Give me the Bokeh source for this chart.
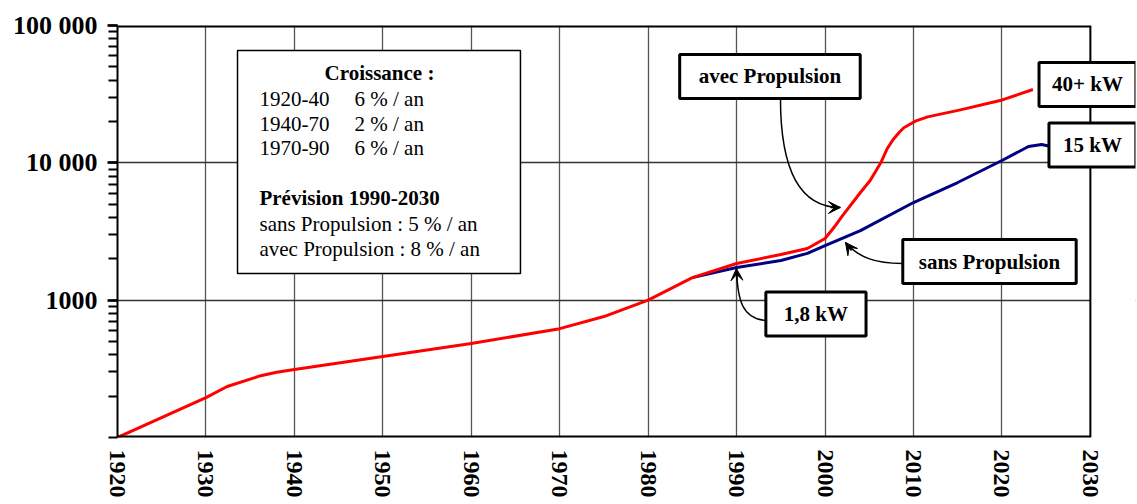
from bokeh.plotting import figure
from bokeh.models import Range1d, FixedTicker, Label, BoxAnnotation, Arrow, VeeHead, Span
from bokeh.embed import file_html
from bokeh.resources import INLINE

# ---- data ----
red_years = [1920, 1930, 1932.4, 1936.2, 1938, 1940, 1950, 1960, 1970, 1975, 1980, 1985,
             1990, 1995, 1998, 2000, 2001, 2002, 2004, 2005.1, 2006.3, 2007.0, 2007.7,
             2008.4, 2008.9, 2010.2, 2011.6, 2015.3, 2019.8, 2023.5]
red_vals = [100, 195, 235, 282, 299, 313, 389, 483, 620, 760, 1000, 1460,
            1850, 2150, 2380, 2810, 3380, 4140, 6080, 7430, 10000, 12600, 14800,
            16700, 18000, 20100, 21600, 24300, 28400, 34200]

blue_years = [1985, 1990, 1995, 1998, 2000, 2004, 2010, 2015, 2020, 2023, 2024.5, 2025.5]
blue_vals = [1460, 1730, 1945, 2190, 2500, 3210, 5140, 7190, 10400, 13150, 13600, 13150]

x_ticks = [1920, 1930, 1940, 1950, 1960, 1970, 1980, 1990, 2000, 2010, 2020, 2030]
y_ticks = [1000, 10000, 100000]
y_tick_labels = ["1000", "10 000", "100 000"]

box_head = "Croissance :"
box_periods = ["1920-40", "1940-70", "1970-90"]
box_rates = ["6 % / an", "2 % / an", "6 % / an"]
box_period_y = [28920, 19020, 12720]
box_forecast_title = "Prévision 1990-2030"
box_forecast = ["sans Propulsion : 5 % / an", "avec Propulsion : 8 % / an"]
box_forecast_y = [3616, 2378]

FONT = "Liberation Serif"
X0, X1 = 1920, 2030          # drawn axis extent
X_VIEW_END = 2035.1          # extra room on the right for the call-out boxes

p = figure(width=1136, height=503, y_axis_type="log",
           x_range=Range1d(X0, X_VIEW_END), y_range=Range1d(100, 100000),
           output_backend="svg", toolbar_location=None,
           min_border_left=117, min_border_right=1, min_border_top=25, min_border_bottom=66)
p.background_fill_color = "white"
p.border_fill_color = "white"
p.outline_line_color = None

# x axis
p.xaxis.ticker = FixedTicker(ticks=x_ticks, minor_ticks=[])
p.xaxis.major_label_orientation = "vertical"
p.xaxis.major_label_text_font = FONT
p.xaxis.major_label_text_font_style = "bold"
p.xaxis.major_label_text_font_size = "24px"
p.xaxis.major_label_text_color = "black"
p.xaxis.major_label_standoff = 12
p.xaxis.major_tick_out = 0
p.xaxis.major_tick_in = 0
p.xaxis.minor_tick_out = 0
p.xaxis.axis_line_color = None

# y axis
minor = [k * 10 ** d for d in (2, 3, 4) for k in range(1, 10)] + [100000]
p.yaxis.ticker = FixedTicker(ticks=y_ticks, minor_ticks=minor)
p.yaxis.major_label_overrides = dict(zip(y_ticks, y_tick_labels))
p.yaxis.major_label_text_font = FONT
p.yaxis.major_label_text_font_style = "bold"
p.yaxis.major_label_text_font_size = "26px"
p.yaxis.major_label_text_color = "black"
p.yaxis.major_label_standoff = 10
p.yaxis.major_tick_out = 10
p.yaxis.major_tick_in = 0
p.yaxis.major_tick_line_color = "black"
p.yaxis.major_tick_line_width = 2.5
p.yaxis.minor_tick_out = 9
p.yaxis.minor_tick_in = 0
p.yaxis.minor_tick_line_width = 2
p.yaxis.minor_tick_line_color = "black"
p.yaxis.axis_line_color = "black"
p.yaxis.axis_line_width = 2

p.xgrid.grid_line_color = "#555555"
p.xgrid.grid_line_width = 1.3
p.ygrid.grid_line_color = "#333333"
p.ygrid.grid_line_width = 1.3

# curves
p.line(blue_years, blue_vals, line_color="#000080", line_width=3)
p.line(red_years, red_vals, line_color="#ff0000", line_width=3, line_join="round")

# frame edges (top / bottom) limited to the 1920-2030 span
p.segment(x0=[X0, X0], x1=[X1, X1], y0=[100000, 100], y1=[100000, 100],
          line_color="black", line_width=4)

# white cover beyond 2030, then the right frame edge
p.add_layout(BoxAnnotation(left=X1, fill_color="white", fill_alpha=1.0,
                           line_color=None, level="underlay"))
p.add_layout(Span(location=X1, dimension="height", line_color="black", line_width=2))

# growth box
p.add_layout(BoxAnnotation(left=1933.57, right=1965.56, bottom=1564, top=65770,
                           fill_color="white", fill_alpha=1.0,
                           line_color="black", line_alpha=1.0, line_width=1.5))

def txt(x, y, s, bold=False, align="left"):
    p.add_layout(Label(x=x, y=y, text=s, text_align=align, text_baseline="middle",
                       text_font=FONT, text_font_style="bold" if bold else "normal",
                       text_font_size="21px", text_color="black"))

txt(1949.62, 44730, box_head, bold=True, align="center")
for per, rate, yv in zip(box_periods, box_rates, box_period_y):
    txt(1936.05, yv, per)
    txt(1946.8, yv, rate)
txt(1936.05, 5500, box_forecast_title, bold=True)
for s, yv in zip(box_forecast, box_forecast_y):
    txt(1936.05, yv, s)

# curved arrows
p.bezier(x0=[1994.96, 2008.75, 1993.26], y0=[29420, 1849, 711],
         x1=[2001.74, 2002.31, 1989.98], y1=[4730, 2630, 1701],
         cx0=[1994.96, 2005.70, 1990.66], cy0=[8790, 1849, 735],
         cx1=[1997.22, 2003.78, 1990.10], cy1=[4730, 2045, 994],
         line_color="black", line_width=1.5)
for xs, ys, xe, ye in [(2000.61, 4730, 2001.74, 4730),
                       (2002.99, 2299, 2002.31, 2630),
                       (1990.04, 1391, 1989.98, 1701)]:
    p.add_layout(Arrow(end=VeeHead(size=12, fill_color="black", line_color="black", line_width=1),
                       x_start=xs, y_start=ys, x_end=xe, y_end=ye,
                       line_color="black", line_width=1.5))

# call-out boxes
def callout(x, y, s, ph):
    p.add_layout(Label(x=x, y=y, text=s, text_align="center", text_baseline="middle",
                       text_font=FONT, text_font_style="bold", text_font_size="21px",
                       text_color="black", background_fill_color="white",
                       border_line_color="black", border_line_width=3,
                       padding=dict(left=ph, right=ph, top=10, bottom=10)))

callout(1993.77, 42540, "avec Propulsion", 19)
callout(2029.67, 37190, "40+ kW", 13)
callout(2030.23, 13490, "15 kW", 14)
callout(2018.59, 1912, "sans Propulsion", 16)
callout(1998.97, 793, "1,8 kW", 18)

open("out.html", "w").write(file_html(p, INLINE))
